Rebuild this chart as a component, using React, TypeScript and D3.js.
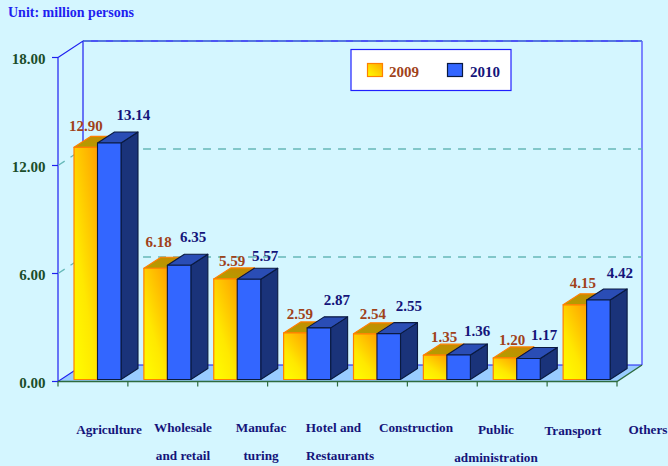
import React from 'react';
import * as d3 from 'd3';

const categories = ['Agriculture', 'Wholesale and retail', 'Manufacturing', 'Hotel and Restaurants', 'Construction', 'Public administration', 'Transport', 'Others'];
const categoryLines = [['Agriculture'], ['Wholesale', 'and retail'], ['Manufac', 'turing'], ['Hotel and', 'Restaurants'], ['Construction'], ['Public', 'administration'], ['Transport'], ['Others']];
const years = ['2009', '2010'];
const values2009 = [12.9, 6.18, 5.59, 2.59, 2.54, 1.35, 1.2, 4.15];
const values2010 = [13.14, 6.35, 5.57, 2.87, 2.55, 1.36, 1.17, 4.42];
const yTicks = [0, 6, 12, 18];

const width = 668;
const height = 466;
const left = 58;
const right = 617;
const dx = 25; // depth of the box
const dy = -16.5;
const barDx = 17; // depth of a bar
const barDy = -11;

// the labels in the picture do not sit on a strict rule
const labelX = [109, 183, 261, 333.5, 416, 496, 573, 648];
const labelX2 = [109, 183, 261, 340, 416, 496, 573, 648];
const labelY = [434, 432, 432, 432, 432, 434, 435, 434];
const nudge9X = [0, 3, 6.5, 4.5, 7.5, 9, 7, 8];
const nudge9Y = [-16, -21.5, -13, -14, -15, -13, -13, -17];
const nudge10X = [24, 14, 16, 18, 20, 18.5, 15.5, 21.5];
const nudge10Y = [-23, -23, -18, -23, -23, -19, -18, -22];

const xScale = d3.scaleBand().domain(categories).range([left, right]);
const innerScale = d3.scaleBand().domain(years).range([16, 63]);
const yScale = d3.scaleLinear().domain([0, 18]).range([381.5, 57.5]);

const font = "'Liberation Serif', 'Times New Roman', serif";
const BLUE_LINE = '#1f1ff0';
const GREEN_AXIS = '#2e6b3e';
const TEAL = '#66b8b8';

function Bar({ x, w, value, year }: { x: number; w: number; value: number; year: string }) {
  const base = yScale(0) - 2;
  const top = base - (yScale(0) - yScale(value));
  const is2009 = year === '2009';
  const stroke = is2009 ? '#ff8000' : '#0a1a40';
  const sw = is2009 ? 1.2 : 1.1;
  const topPath = d3.path();
  topPath.moveTo(x, top);
  topPath.lineTo(x + barDx, top + barDy);
  topPath.lineTo(x + w + barDx, top + barDy);
  topPath.lineTo(x + w, top);
  topPath.closePath();
  const sidePath = d3.path();
  sidePath.moveTo(x + w, top);
  sidePath.lineTo(x + w + barDx, top + barDy);
  sidePath.lineTo(x + w + barDx, base + barDy);
  sidePath.lineTo(x + w, base);
  sidePath.closePath();
  return (
    <g stroke={stroke} strokeWidth={sw} strokeLinejoin="round">
      <path d={sidePath.toString()} fill={is2009 ? '#b89000' : '#1a337a'} />
      <path d={topPath.toString()} fill={is2009 ? 'url(#topOrange)' : '#2a4db5'} />
      <rect x={x} y={top} width={w} height={base - top} fill={is2009 ? 'url(#frontOrange)' : '#3366ff'} />
    </g>
  );
}

export default function App() {
  const backLeft = left + dx;
  const backRight = right + dx;
  const backBottom = yScale(0) + dy;
  const backTop = yScale(18) + dy;
  const w = innerScale.bandwidth();

  return (
    <svg width={width} height={height} viewBox={`0 0 ${width} ${height}`} style={{ position: 'absolute', left: 0, top: 0, background: '#d4f6ff', fontFamily: font, fontWeight: 'bold' }}>
      <defs>
        <linearGradient id="frontOrange" x1="0" y1="1" x2="1" y2="-0.5">
          <stop offset="0" stopColor="#ffff00" />
          <stop offset="0.31" stopColor="#ffe800" />
          <stop offset="0.46" stopColor="#ffd000" />
          <stop offset="0.77" stopColor="#ffa000" />
          <stop offset="1" stopColor="#ffa000" />
        </linearGradient>
        <linearGradient id="topOrange" x1="0" y1="1" x2="1" y2="0">
          <stop offset="0" stopColor="#b0a000" />
          <stop offset="1" stopColor="#c88800" />
        </linearGradient>
        <linearGradient id="legendOrange" x1="0" y1="1" x2="1" y2="0">
          <stop offset="0" stopColor="#ffff00" />
          <stop offset="1" stopColor="#ffa800" />
        </linearGradient>
      </defs>

      <text x={8} y={17} fontSize={14} fill="#1f1ff0">Unit: million persons</text>

      {/* floor */}
      <polygon points={`${left},${yScale(0)} ${backLeft},${backBottom} ${backRight},${backBottom} ${right},${yScale(0)}`} fill="#99ccff" />

      {/* walls */}
      <path d={`M${left},${yScale(18)}L${left},${yScale(0)}L${backLeft},${backBottom}M${left},${yScale(18)}L${backLeft},${backTop}L${backLeft},${backBottom}L${backRight},${backBottom}`} fill="none" stroke={BLUE_LINE} strokeWidth={1.2} />
      <path d={`M${backLeft},${backTop}H${backRight}`} fill="none" stroke={BLUE_LINE} strokeWidth={1.3} />
      <path d={`M${backRight},${backTop}V${backBottom}`} fill="none" stroke="#5555ff" strokeWidth={1.4} />
      <path d={`M${backLeft},${backTop}H${backRight}`} fill="none" stroke={TEAL} strokeWidth={1} strokeDasharray="8 7" opacity={0.7} />

      {/* gridlines */}
      {yTicks.filter((t) => t > 0 && t < 18).map((t) => (
        <path key={t} d={`M${left},${yScale(t)}L${backLeft},${yScale(t) + dy}H${backRight}`} fill="none" stroke={TEAL} strokeWidth={1.3} strokeDasharray="8 7" />
      ))}

      {/* axes */}
      {yTicks.map((t) => (
        <g key={t}>
          <line x1={left - 6} x2={left} y1={yScale(t)} y2={yScale(t)} stroke={BLUE_LINE} strokeWidth={1.2} />
          <text x={45.5} y={yScale(t) + 6} textAnchor="end" fontSize={15} fill="#1b4d2b">{t.toFixed(2)}</text>
        </g>
      ))}
      <path d={`M${left},${yScale(0)}H${right}L${backRight},${backBottom}`} fill="none" stroke={GREEN_AXIS} strokeWidth={1.3} />
      {[...categories.map((c) => xScale(c) as number), right].map((x) => (
        <line key={x} x1={x} x2={x} y1={yScale(0)} y2={yScale(0) + 5} stroke={GREEN_AXIS} strokeWidth={1.2} />
      ))}

      {/* bars */}
      {categories.map((c, i) => {
        const x0 = xScale(c) as number;
        return (
          <g key={c}>
            <Bar x={x0 + (innerScale('2009') as number)} w={w} value={values2009[i]} year="2009" />
            <Bar x={x0 + (innerScale('2010') as number)} w={w} value={values2010[i]} year="2010" />
          </g>
        );
      })}

      {/* value labels */}
      {categories.map((c, i) => {
        const x0 = xScale(c) as number;
        const x9 = x0 + (innerScale('2009') as number) + w / 2;
        const x10 = x0 + (innerScale('2010') as number) + w / 2;
        const top9 = yScale(values2009[i]) - 2;
        const top10 = yScale(values2010[i]) - 2;
        return (
          <g key={c} fontSize={15} textAnchor="middle">
            <text x={x9 + nudge9X[i]} y={top9 + nudge9Y[i]} fill="#a0421a">{values2009[i].toFixed(2)}</text>
            <text x={x10 + nudge10X[i]} y={top10 + nudge10Y[i]} fill="#14147a">{values2010[i].toFixed(2)}</text>
          </g>
        );
      })}

      {/* category labels */}
      {categoryLines.map((lines, i) => (
        <g key={categories[i]} fontSize={13.2} fill="#14147a" textAnchor="middle">
          <text x={labelX[i]} y={labelY[i]}>{lines[0]}</text>
          {lines[1] && <text x={labelX2[i]} y={labelY[i] + 28}>{lines[1]}</text>}
        </g>
      ))}

      {/* legend */}
      <rect x={351} y={49.5} width={160} height={41} fill="#ffffff" stroke="#2020ff" strokeWidth={1.2} />
      <rect x={367.5} y={63.5} width={15} height={13} fill="url(#legendOrange)" stroke="#ff8000" strokeWidth={1.2} />
      <text x={389} y={77} fontSize={15} fill="#a0421a">{years[0]}</text>
      <rect x={447.5} y={63.5} width={15} height={13} fill="#3366ff" stroke="#0a1a40" strokeWidth={1.2} />
      <text x={470} y={77} fontSize={15} fill="#14147a">{years[1]}</text>
    </svg>
  );
}
